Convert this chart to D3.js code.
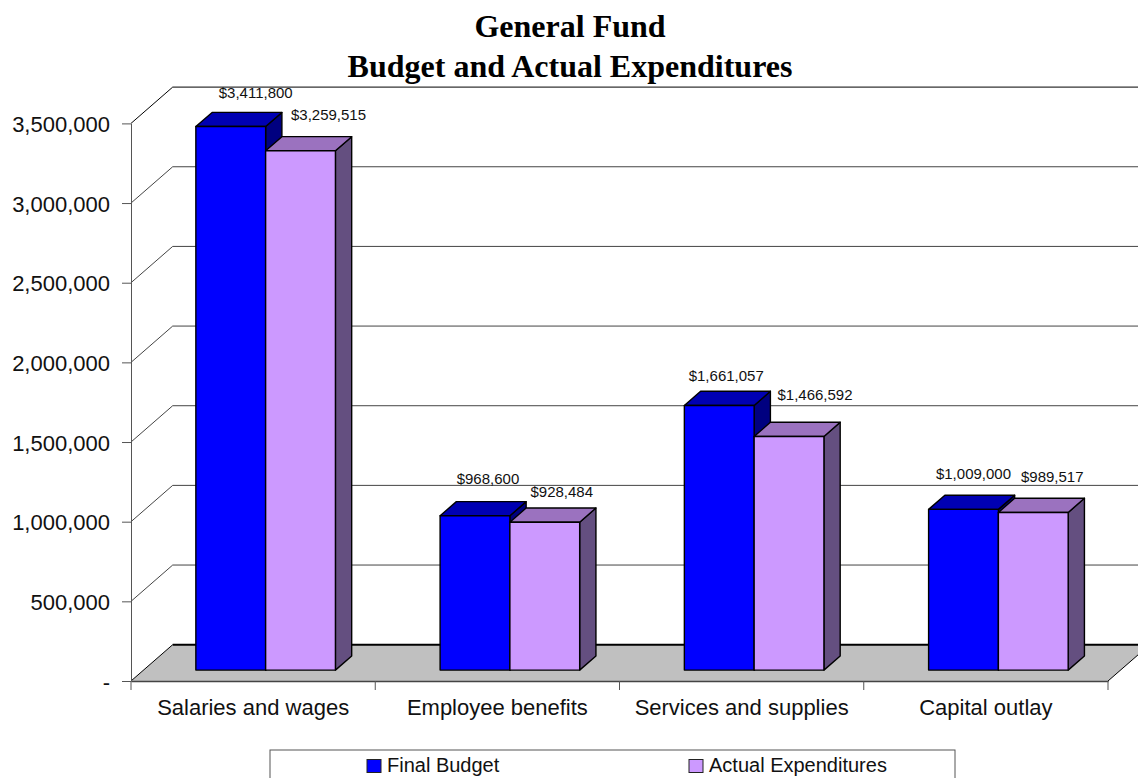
<!DOCTYPE html>
<html>
<head>
<meta charset="utf-8">
<script src="https://cdn.jsdelivr.net/npm/d3@7"></script>
<style>
  html, body { margin: 0; padding: 0; background: #fff; overflow: hidden; }
  svg { display: block; }
</style>
</head>
<body>
<svg id="chart"></svg>
<script>
const categories = ["Salaries and wages", "Employee benefits", "Services and supplies", "Capital outlay"];
const seriesNames = ["Final Budget", "Actual Expenditures"];
const finalBudget = [3411800, 968600, 1661057, 1009000];
const actualExpenditures = [3259515, 928484, 1466592, 989517];
const yTicks = [0, 500000, 1000000, 1500000, 2000000, 2500000, 3000000, 3500000];
const titleLines = ["General Fund", "Budget and Actual Expenditures"];

const svgWidth = 1138;
const svgHeight = 778;
const left = 131, right = 1108, floorY = 681, topY = 123.4;
const depthX = 41.7, depthY = -36.3; // how far the back wall sits from the axes

const colors = [
  { front: "#0000ff", top: "#0000b3", side: "#000080" },
  { front: "#cc99ff", top: "#9b72bf", side: "#644f80" }
];
// data labels were hand placed in the original, nudges are per bar [dx, dy]
const labelNudge = [
  [[25, -20], [28, -22]],
  [[13, -23], [17, -16]],
  [[7, -16], [26, -28]],
  [[10, -21], [19, -22]]
];

const svg = d3.select("#chart").attr("width", svgWidth).attr("height", svgHeight);

const x0 = d3.scaleBand().domain(categories).range([left, right]);
const x1 = d3.scaleBand().domain(seriesNames)
  .range([0, x0.bandwidth()]).paddingOuter(0.75).paddingInner(0);
const y = d3.scaleLinear().domain([0, 3500000]).range([floorY, topY]);
// z runs from the front of the floor (0) to the back wall (1)
const z = d3.scaleLinear().domain([0, 1]).range([0, 1]);
const px = (xv, zv) => xv + z(zv) * depthX;
const py = (yv, zv) => yv + z(zv) * depthY;
const barFront = 0.3, barBack = 0.69;

const poly = (pts) => pts.map((p) => p.join(",")).join(" ");

// floor
svg.append("polygon")
  .attr("points", poly([[left, floorY], [right, floorY], [px(right, 1), py(floorY, 1)], [px(left, 1), py(floorY, 1)]]))
  .attr("fill", "#c0c0c0");
svg.append("line")
  .attr("x1", px(left, 1)).attr("x2", px(right, 1))
  .attr("y1", py(floorY, 1)).attr("y2", py(floorY, 1))
  .attr("stroke", "#000").attr("stroke-width", 2);
svg.append("line")
  .attr("x1", left).attr("y1", floorY)
  .attr("x2", px(left, 1)).attr("y2", py(floorY, 1))
  .attr("stroke", "#000").attr("stroke-width", 1);
svg.append("line")
  .attr("x1", right).attr("y1", floorY)
  .attr("x2", px(right, 1)).attr("y2", py(floorY, 1))
  .attr("stroke", "#000").attr("stroke-width", 1);

// wall gridlines, each with the diagonal coming off the axis
const grid = svg.append("g");
yTicks.filter((t) => t > 0).forEach((t) => {
  const isTop = t === 3500000;
  grid.append("polyline")
    .attr("points", poly([[left, y(t)], [px(left, 1), py(y(t), 1)], [px(right, 1), py(y(t), 1)]]))
    .attr("fill", "none")
    .attr("stroke", isTop ? "#000" : "#444")
    .attr("stroke-width", 1);
});

// axes
const tickFormat = (d) => (d === 0 ? "-" : d3.format(",")(d));
const yAxis = svg.append("g")
  .attr("transform", `translate(${left},0)`)
  .call(d3.axisLeft(y).tickValues(yTicks).tickFormat(tickFormat).tickSize(9).tickSizeOuter(0).tickPadding(12));
yAxis.selectAll("text").attr("font-family", "Liberation Sans").attr("font-size", 22).attr("fill", "#111").attr("dy", "0.37em");
yAxis.selectAll("line,path").attr("stroke", "#555");

const xAxis = svg.append("g")
  .attr("transform", `translate(0,${floorY})`)
  .call(d3.axisBottom(x0).tickSize(0).tickPadding(18));
xAxis.selectAll("text").attr("font-family", "Liberation Sans").attr("font-size", 22).attr("fill", "#111");
xAxis.select("path").attr("stroke", "#444").attr("stroke-width", 1.5);
xAxis.selectAll(".boundary")
  .data(d3.range(categories.length + 1))
  .enter().append("line")
  .attr("class", "boundary")
  .attr("x1", (i) => left + i * x0.step()).attr("x2", (i) => left + i * x0.step())
  .attr("y1", 0).attr("y2", 9)
  .attr("stroke", "#555");

// bars
const bars = svg.append("g").attr("stroke", "#000").attr("stroke-width", 1.4).attr("stroke-linejoin", "round");
const labels = svg.append("g")
  .attr("font-family", "Liberation Sans").attr("font-size", 15).attr("text-anchor", "middle").attr("fill", "#111");
const seriesValues = [finalBudget, actualExpenditures];

categories.forEach((cat, c) => {
  seriesNames.forEach((name, s) => {
    const v = seriesValues[s][c];
    const xa = x0(cat) + x1(name);
    const xb = xa + x1.bandwidth();
    const base = y(0);
    const top = y(v);
    const fx = (xv) => px(xv, barFront), fy = (yv) => py(yv, barFront);
    const bx = (xv) => px(xv, barBack), by = (yv) => py(yv, barBack);
    bars.append("polygon")
      .attr("fill", colors[s].side)
      .attr("points", poly([[fx(xb), fy(top)], [bx(xb), by(top)], [bx(xb), by(base)], [fx(xb), fy(base)]]));
    bars.append("polygon")
      .attr("fill", colors[s].top)
      .attr("points", poly([[fx(xa), fy(top)], [bx(xa), by(top)], [bx(xb), by(top)], [fx(xb), fy(top)]]));
    bars.append("polygon")
      .attr("fill", colors[s].front)
      .attr("points", poly([[fx(xa), fy(top)], [fx(xb), fy(top)], [fx(xb), fy(base)], [fx(xa), fy(base)]]));
    labels.append("text")
      .attr("x", fx((xa + xb) / 2) + labelNudge[c][s][0])
      .attr("y", by(top) + labelNudge[c][s][1])
      .attr("dy", "0.35em")
      .text("$" + d3.format(",")(v));
  });
});

// title
svg.append("g").selectAll("text")
  .data(titleLines)
  .enter().append("text")
  .attr("x", 570)
  .attr("y", (d, i) => 37 + i * 40)
  .attr("text-anchor", "middle")
  .attr("font-family", "Liberation Serif")
  .attr("font-weight", "bold")
  .attr("font-size", 32)
  .text((d) => d);

// legend, runs off the bottom of the picture like the original
const legend = svg.append("g");
legend.append("rect")
  .attr("x", 270).attr("y", 750).attr("width", 685).attr("height", 40)
  .attr("fill", "#fff").attr("stroke", "#555").attr("stroke-width", 1);
const legendX = d3.scaleOrdinal().domain(seriesNames).range([367, 689]);
seriesNames.forEach((name, s) => {
  legend.append("rect")
    .attr("x", legendX(name)).attr("y", 759.5).attr("width", 14).attr("height", 13)
    .attr("fill", colors[s].front).attr("stroke", "#222").attr("stroke-width", 1);
  legend.append("text")
    .attr("x", legendX(name) + 20).attr("y", 772)
    .attr("font-family", "Liberation Sans").attr("font-size", 20).attr("fill", "#111")
    .text(name);
});
</script>
</body>
</html>
